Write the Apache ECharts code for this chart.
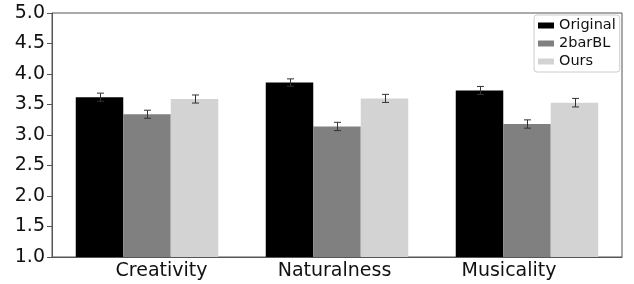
<!DOCTYPE html>
<html>
<head>
<meta charset="utf-8">
<script src="https://cdn.jsdelivr.net/npm/echarts@6/dist/echarts.min.js"></script>
<style>
  html, body { margin: 0; padding: 0; background: #fff; }
  #chart { width: 634px; height: 284px; }
</style>
</head>
<body>
<div id="chart"></div>
<script>
const categories = ['Creativity', 'Naturalness', 'Musicality']
const seriesNames = ['Original', '2barBL', 'Ours']
const originalValues = [3.62, 3.86, 3.73]
const baselineValues = [3.34, 3.14, 3.18]
const oursValues = [3.59, 3.60, 3.53]
const originalErr = [0.066, 0.06, 0.066]
const baselineErr = [0.066, 0.068, 0.068]
const oursErr = [0.066, 0.066, 0.07]
const yTicks = [1.0, 1.5, 2.0, 2.5, 3.0, 3.5, 4.0, 4.5, 5.0]

const colors = ['#000000', '#808080', '#d3d3d3']
const font = 'DejaVu Sans'
// label shifts seen in the picture (px)
const labelPad = {
  Creativity: [0, 0, 0, 29],
  Naturalness: [0, 5, 0, 0],
  Musicality: [0, 36, 0, 0]
}

const values = [originalValues, baselineValues, oursValues]
const errs = [originalErr, baselineErr, oursErr]

const barSeries = seriesNames.map((name, i) => ({
  name,
  type: 'bar',
  barGap: '0%',
  barCategoryGap: '25%',
  itemStyle: { color: colors[i] },
  data: values[i]
}))

const errSeries = seriesNames.map((name, i) => ({
  name: name + ' err',
  type: 'custom',
  z: 10,
  data: values[i].map((v, k) => [k, v, errs[i][k]]),
  renderItem: (params, api) => {
    const k = api.value(0)
    const v = api.value(1)
    const e = api.value(2)
    const band = api.size([1, 0])[0]
    const off = (i - 1) * band * 0.25
    const hi = api.coord([k, v + e])
    const lo = api.coord([k, v - e])
    const x = Math.round(hi[0] + off) + 0.5
    const cap = 3.5
    const style = { stroke: '#333', lineWidth: 1 }
    return {
      type: 'group',
      children: [
        { type: 'line', shape: { x1: x, y1: hi[1], x2: x, y2: lo[1] }, style },
        { type: 'line', shape: { x1: x - cap, y1: hi[1], x2: x + cap, y2: hi[1] }, style },
        { type: 'line', shape: { x1: x - cap, y1: lo[1], x2: x + cap, y2: lo[1] }, style }
      ]
    }
  }
}))

const options = {
  animation: false,
  textStyle: { fontFamily: font },
  grid: {
    left: 52,
    right: 12,
    top: 13,
    bottom: 27,
    show: true,
    borderColor: '#555',
    borderWidth: 1
  },
  legend: {
    data: seriesNames,
    orient: 'vertical',
    left: 534,
    top: 15,
    icon: 'rect',
    itemWidth: 16,
    itemHeight: 6,
    itemGap: 3,
    padding: [3, 4, 3, 4],
    borderColor: '#ccc',
    borderWidth: 1,
    borderRadius: 3,
    backgroundColor: '#fff',
    textStyle: { fontFamily: font, fontSize: 14.5, color: '#111', lineHeight: 15 }
  },
  xAxis: {
    type: 'category',
    data: categories,
    axisLine: { lineStyle: { color: '#555' } },
    axisTick: { show: false },
    axisLabel: {
      interval: 0,
      hideOverlap: false,
      margin: 5,
      fontSize: 19,
      color: '#111',
      fontFamily: font,
      formatter: (val) => `{${val}|${val}}`,
      rich: Object.fromEntries(categories.map(c => [c, { fontSize: 19, fontFamily: font, color: '#111', padding: labelPad[c] }]))
    }
  },
  yAxis: {
    type: 'value',
    min: yTicks[0],
    max: yTicks[yTicks.length - 1],
    interval: 0.5,
    splitLine: { show: false },
    axisLine: { show: true, lineStyle: { color: '#555' } },
    axisTick: { show: true, length: 5, lineStyle: { color: '#555' } },
    axisLabel: {
      margin: 7,
      fontSize: 19,
      color: '#111',
      fontFamily: font,
      formatter: (v) => v.toFixed(1)
    }
  },
  series: [...barSeries, ...errSeries]
}

const chartInstance = echarts.init(document.getElementById('chart'))
chartInstance.setOption(options)
</script>
</body>
</html>
